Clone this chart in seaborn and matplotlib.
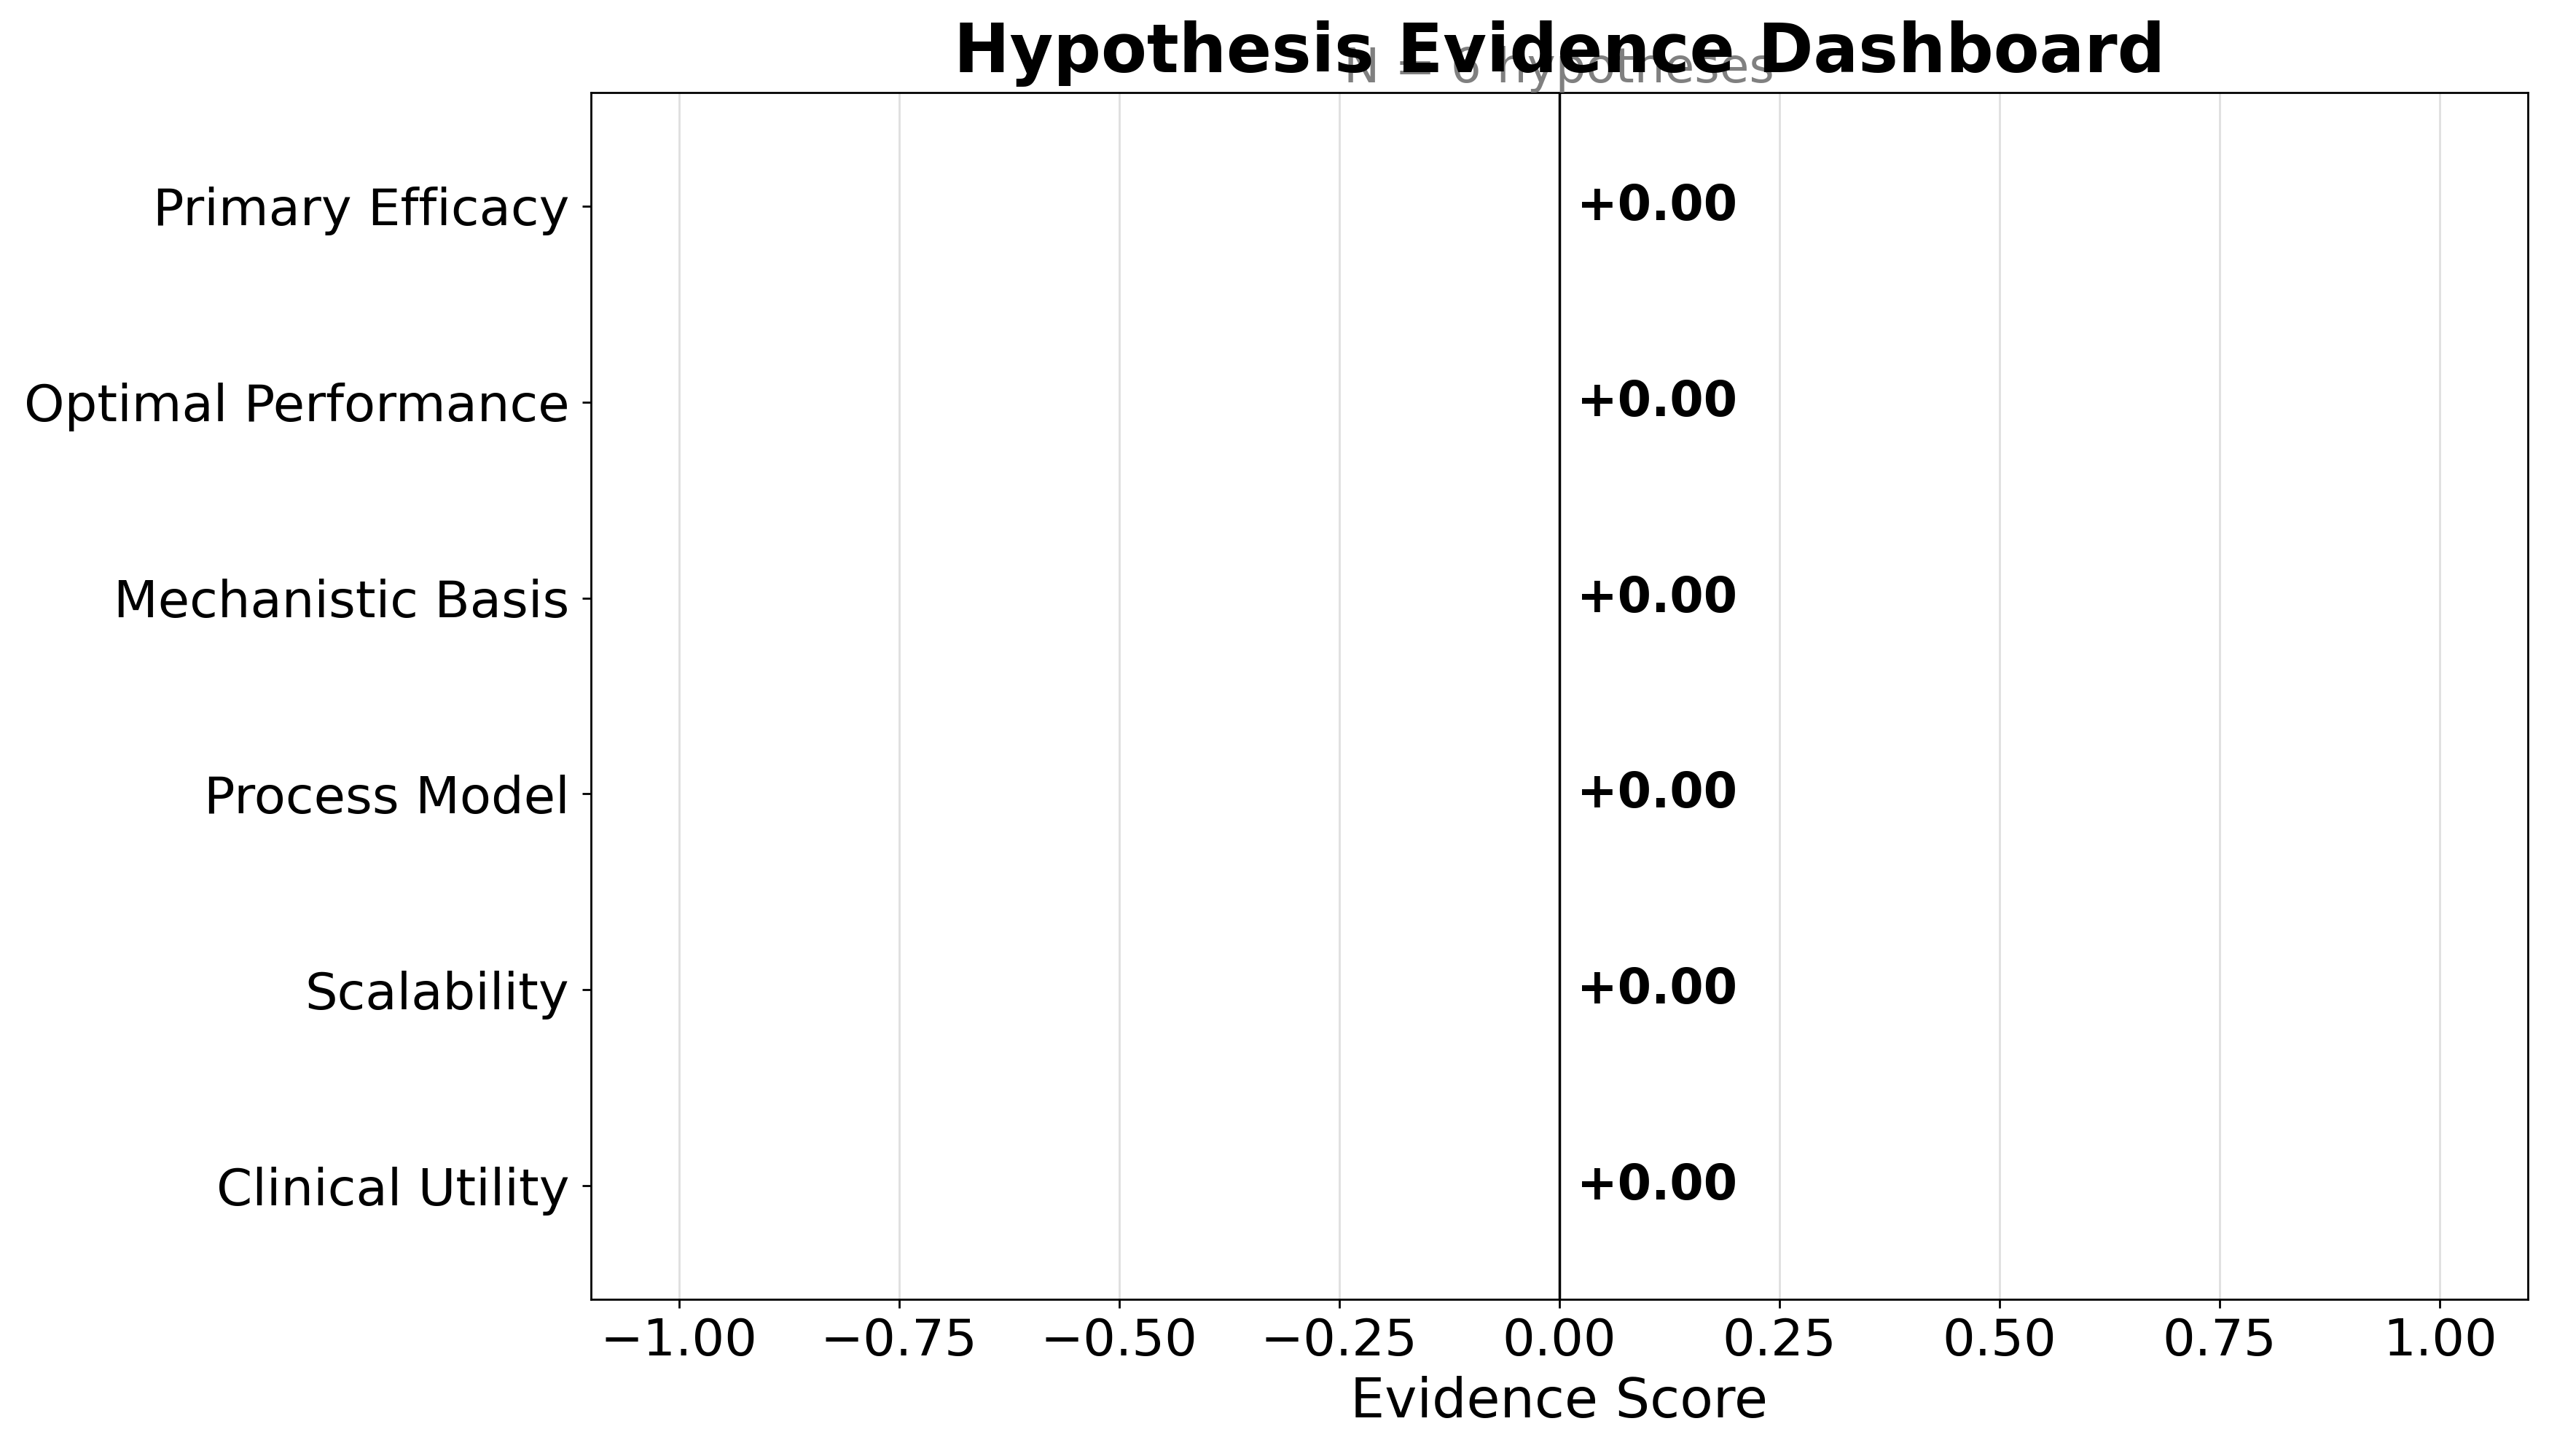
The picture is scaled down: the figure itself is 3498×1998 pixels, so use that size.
import numpy as np
import pandas as pd
import seaborn as sns
import matplotlib
matplotlib.use("Agg")
import matplotlib.pyplot as plt

# hypotheses and their evidence scores (all zero in this snapshot)
hypotheses = ["Primary Efficacy", "Optimal Performance", "Mechanistic Basis",
              "Process Model", "Scalability", "Clinical Utility"]
scores = [0.0, 0.0, 0.0, 0.0, 0.0, 0.0]
x_ticks = [-1.00, -0.75, -0.50, -0.25, 0.00, 0.25, 0.50, 0.75, 1.00]

df = pd.DataFrame({"Hypothesis": hypotheses, "Score": scores})
colors = ["#2ca02c" if s > 0 else "#d62728" if s < 0 else "#7f7f7f" for s in scores]

fig, ax = plt.subplots(figsize=(13.992, 7.992), dpi=250)
fig.subplots_adjust(left=0.2318, right=0.9917, top=0.9364, bottom=0.1076)

sns.barplot(data=df, x="Score", y="Hypothesis", hue="Hypothesis",
            palette=colors, orient="h", legend=False, ax=ax)

ax.axvline(0, color="black", linewidth=1)
ax.set_xlim(-1.1, 1.1)
ax.set_ylim(len(hypotheses) - 0.42, -0.58)
ax.set_xticks(x_ticks)
ax.grid(axis="x", alpha=0.4)
ax.set_axisbelow(True)

# score labels next to each bar
for i, s in enumerate(scores):
    ax.text(s + 0.02 if s >= 0 else s - 0.02, i, f"{s:+.2f}",
            ha="left" if s >= 0 else "right", va="center",
            fontsize=19.2, fontweight="bold")

ax.set_title("Hypothesis Evidence Dashboard", fontsize=26.4, fontweight="bold", pad=8)
ax.text(0.5, 1.0, f"N = {len(hypotheses)} hypotheses", transform=ax.transAxes,
        ha="center", va="bottom", fontsize=19, color="gray")
ax.set_xlabel("Evidence Score", fontsize=21.5)
ax.set_ylabel("")
ax.tick_params(axis="both", labelsize=20.3)
ax.tick_params(axis="y", pad=5)

plt.savefig("out.png", dpi=250)
